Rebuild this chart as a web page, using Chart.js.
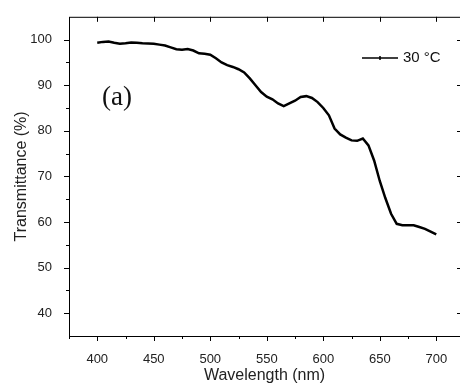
<!DOCTYPE html>
<html>
<head>
<meta charset="utf-8">
<script src="https://cdn.jsdelivr.net/npm/chart.js@4/dist/chart.umd.min.js"></script>
<style>
  html, body { margin: 0; padding: 0; background: #fff; }
  #wrap { width: 460px; height: 385px; }
</style>
</head>
<body>
<div id="wrap"><canvas id="transChart"></canvas></div>
<script>
// wavelength (nm) and transmittance (%)
const wavelengths = [
  400, 405, 410, 415, 420, 425, 430, 435, 440, 445,
  450, 455, 460, 465, 470, 475, 480, 485, 490, 495,
  500, 505, 510, 515, 520, 525, 530, 535, 540, 545,
  550, 555, 560, 565, 570, 575, 580, 585, 590, 595,
  600, 605, 610, 615, 620, 625, 630, 635, 640, 645,
  650, 655, 660, 665, 670, 675, 680, 685, 690, 695, 700
];
const transmittance = [
  99.3, 99.5, 99.6, 99.3, 99.1, 99.2, 99.35, 99.3, 99.2, 99.15,
  99.1, 98.9, 98.7, 98.3, 97.9, 97.8, 97.95, 97.6, 97.0, 96.9,
  96.7, 95.9, 95.0, 94.4, 94.0, 93.5, 92.8, 91.5, 90.0, 88.5,
  87.5, 86.9, 86.0, 85.4, 86.0, 86.6, 87.4, 87.6, 87.2, 86.3,
  85.0, 83.4, 80.5, 79.2, 78.5, 77.9, 77.8, 78.3, 76.8, 73.5,
  69.0, 65.2, 61.8, 59.6, 59.3, 59.3, 59.3, 58.9, 58.5, 57.9, 57.3
];
const seriesLabel = '30 \u00B0C';
const panelLabel = '(a)';

const points = wavelengths.map((w, i) => ({ x: w, y: transmittance[i] }));

// frame (right side falls just off the canvas), ticks, legend, panel label
const framePlugin = {
  id: 'frame',
  afterDraw(chart) {
    const ctx = chart.ctx;
    const a = chart.chartArea;
    const xs = chart.scales.x, ys = chart.scales.y;
    ctx.save();
    ctx.strokeStyle = '#000';
    ctx.lineWidth = 1;
    ctx.strokeRect(a.left + 0.5, a.top + 0.5, a.right - a.left + 1, a.bottom - a.top);

    ctx.beginPath();
    xs.ticks.forEach(t => {
      if (t.value > 700) return;
      const px = Math.round(xs.getPixelForValue(t.value)) + 0.5;
      const major = t.value % 50 === 0;
      ctx.moveTo(px, a.bottom);
      ctx.lineTo(px, a.bottom + (major ? 5 : 3));
      if (major) {
        ctx.moveTo(px, a.top);
        ctx.lineTo(px, a.top + 5);
      }
    });
    ys.ticks.forEach(t => {
      if (t.value <= 35 || t.value >= 105) return;
      const py = Math.round(ys.getPixelForValue(t.value)) + 0.5;
      const major = t.value % 10 === 0;
      ctx.moveTo(a.left, py);
      ctx.lineTo(a.left - (major ? 5 : 3), py);
      if (major) {
        ctx.moveTo(a.right, py);
        ctx.lineTo(a.right - 3, py);
      }
    });
    ctx.stroke();

    // legend
    ctx.lineWidth = 1.5;
    ctx.beginPath();
    ctx.moveTo(362, 58);
    ctx.lineTo(398, 58);
    ctx.moveTo(380, 56);
    ctx.lineTo(380, 60);
    ctx.stroke();
    ctx.fillStyle = '#111';
    ctx.font = '15px "Liberation Sans", Arial, sans-serif';
    ctx.textBaseline = 'middle';
    ctx.fillText(seriesLabel, 403, 58);

    ctx.font = '27px "Liberation Serif", "Times New Roman", serif';
    ctx.fillText(panelLabel, 102, 98);
    ctx.restore();
  }
};

const config = {
  type: 'line',
  data: {
    datasets: [{
      label: seriesLabel,
      data: points,
      borderColor: '#000',
      borderWidth: 2.5,
      pointRadius: 0,
      tension: 0,
      fill: false
    }]
  },
  options: {
    responsive: true,
    maintainAspectRatio: false,
    animation: false,
    layout: { padding: { left: 12, top: 15, right: 0, bottom: 0 } },
    plugins: {
      legend: { display: false },
      tooltip: { enabled: false }
    },
    scales: {
      x: {
        type: 'linear',
        min: 375,
        max: 721,
        grid: { display: false },
        border: { display: false },
        ticks: {
          stepSize: 25,
          includeBounds: false,
          autoSkip: false,
          maxRotation: 0,
          padding: 8,
          color: '#222',
          font: { family: '"Liberation Sans", Arial, sans-serif', size: 13 },
          callback: v => (v % 50 === 0 && v <= 700 ? v : '')
        },
        title: {
          display: true,
          text: 'Wavelength (nm)',
          color: '#222',
          padding: 0,
          font: { family: '"Liberation Sans", Arial, sans-serif', size: 16 }
        },
        afterFit: s => { s.height = 49; }
      },
      y: {
        min: 35,
        max: 105,
        grid: { display: false },
        border: { display: false },
        ticks: {
          stepSize: 5,
          includeBounds: false,
          autoSkip: false,
          padding: 9,
          color: '#222',
          font: { family: '"Liberation Sans", Arial, sans-serif', size: 13 },
          callback: v => (v % 10 === 0 && v >= 40 && v <= 100 ? v : '')
        },
        title: {
          display: true,
          text: 'Transmittance (%)',
          color: '#222',
          padding: 0,
          font: { family: '"Liberation Sans", Arial, sans-serif', size: 16 }
        },
        afterFit: s => { s.width = 57; }
      }
    }
  },
  plugins: [framePlugin]
};

new Chart(document.getElementById('transChart'), config);
</script>
</body>
</html>
